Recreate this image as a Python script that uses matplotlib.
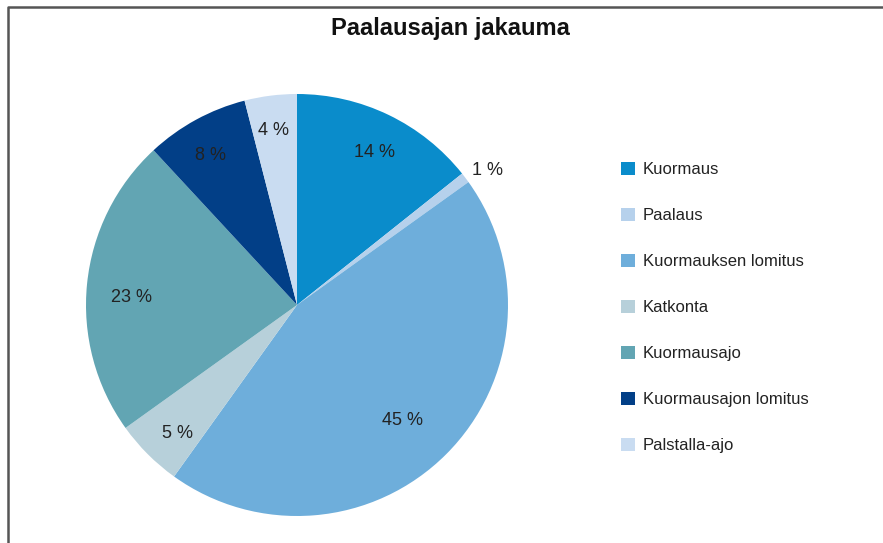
import matplotlib
matplotlib.use("Agg")
import matplotlib.pyplot as plt
from matplotlib.lines import Line2D
from matplotlib.patches import Patch
import numpy as np

plt.rcParams['font.family'] = ['Liberation Sans', 'DejaVu Sans']

categories = ["Kuormaus", "Paalaus", "Kuormauksen lomitus", "Katkonta",
              "Kuormausajo", "Kuormausajon lomitus", "Palstalla-ajo"]
values = [14.3, 0.8, 44.8, 5.2, 23.0, 7.9, 4.0]
colors = ["#0a8ccb", "#b6d1ec", "#6eaedb", "#b7d0da", "#62a5b3", "#023f87", "#c9dcf1"]
title = "Paalausajan jakauma"

W, H = 883, 543
fig = plt.figure(figsize=(W / 100, H / 100), dpi=100)

cx, cy, r = 297, 305, 211
ax = fig.add_axes([(cx - r) / W, (H - cy - r) / H, 2 * r / W, 2 * r / H])
wedges, texts, autotexts = ax.pie(values, colors=colors, startangle=90, counterclock=False,
                                  autopct=lambda p: f"{p:.0f} %", pctdistance=0.8,
                                  radius=1, textprops=dict(fontsize=13, color="#222222"))
ax.set_xlim(-1, 1)
ax.set_ylim(-1, 1)
ax.set_aspect('equal')

label_dist = [0.85, 1.13, 0.71, 0.80, 0.79, 0.86, 0.88]
label_dy = -0.045
for w, t, d in zip(wedges, autotexts, label_dist):
    ang = np.deg2rad((w.theta1 + w.theta2) / 2)
    t.set_position((d * np.cos(ang), d * np.sin(ang) + label_dy))

fig.text(450 / W, 1 - 29 / H, title, ha='center', va='center', fontsize=17, fontweight='bold', color="#111111")

handles = [Patch(facecolor=c, edgecolor='none') for c in colors]
fig.legend(handles, categories, loc='upper left', bbox_to_anchor=(606 / W, 1 - 147 / H),
           frameon=False, fontsize=12, handlelength=0.85, handleheight=0.85,
           labelspacing=1.83, handletextpad=0.45, labelcolor="#222222")

fig.add_artist(Line2D([8 / W, 8 / W, 1.0], [0.0, 1 - 7 / H, 1 - 7 / H], transform=fig.transFigure,
                      color="#555555", linewidth=1.8))

fig.savefig("out.png", dpi=100)
